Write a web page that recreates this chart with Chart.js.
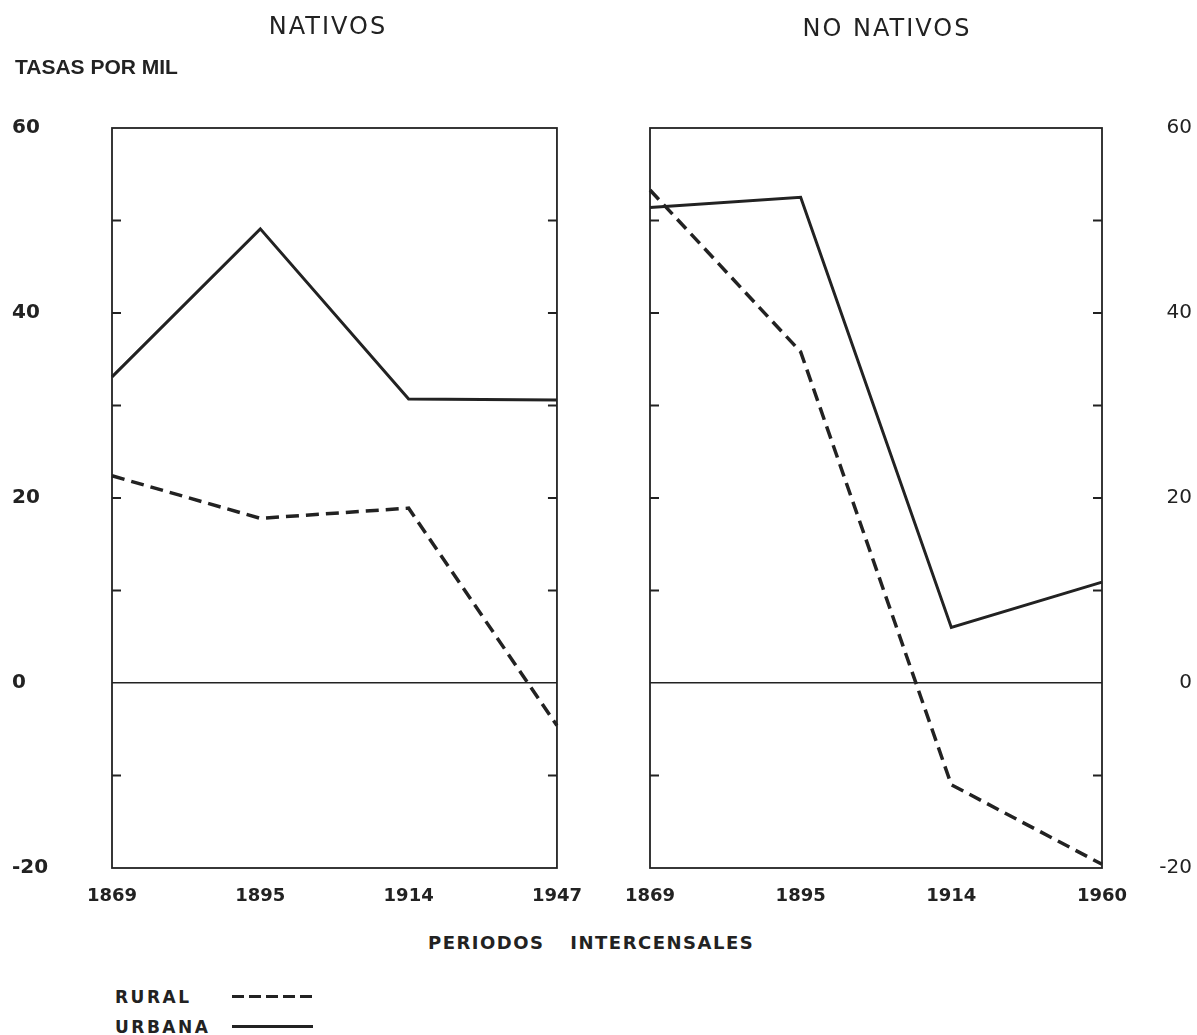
<!DOCTYPE html>
<html>
<head>
<meta charset="utf-8">
<script src="https://cdn.jsdelivr.net/npm/chart.js@4/dist/chart.umd.min.js"></script>
<style>
  body { margin: 0; background: #fff; }
  #pagina { position: relative; width: 1197px; height: 1035px; overflow: hidden; color: #222; }
  canvas { position: absolute; top: 0; }
  .txt { position: absolute; white-space: pre; }
  .titulo { font: 24px "DejaVu Sans"; letter-spacing: 2px; line-height: 30px; text-align: center; }
  .negrita { font-family: "DejaVu Sans"; font-weight: bold; }
  .muestra { position: absolute; height: 3px; }
</style>
</head>
<body>
<div id="pagina">
  <canvas id="nativos" width="600" height="918" style="left:0"></canvas>
  <canvas id="noNativos" width="597" height="918" style="left:600px"></canvas>

  <div class="txt titulo" style="left:228px; width:200px; top:11px">NATIVOS</div>
  <div class="txt titulo" style="left:737px; width:300px; top:13px">NO NATIVOS</div>
  <div class="txt" style="left:15px; top:55px; font:bold 21px 'Liberation Sans'; line-height:24px">TASAS POR MIL</div>
  <div class="txt negrita" style="left:428px; top:931px; font-size:18px; letter-spacing:1.5px; word-spacing:18px; line-height:24px">PERIODOS INTERCENSALES</div>

  <div class="txt negrita" style="left:115px; top:986px; font-size:17px; letter-spacing:2.5px; line-height:22px">RURAL</div>
  <div class="muestra" style="left:232px; top:995px; width:81px; background:repeating-linear-gradient(to right, #222 0 12px, transparent 12px 17px)"></div>
  <div class="txt negrita" style="left:115px; top:1016px; font-size:17px; letter-spacing:2.5px; line-height:22px">URBANA</div>
  <div class="muestra" style="left:232px; top:1025px; width:81px; background:#222"></div>
</div>

<script>
// Datos (tasas por mil)
const añosNativos = ['1869', '1895', '1914', '1947'];
const añosNoNativos = ['1869', '1895', '1914', '1960'];
const nativosRural = [22.4, 17.8, 18.9, -4.6];
const nativosUrbana = [33.1, 49.1, 30.7, 30.6];
const noNativosRural = [53.3, 35.8, -11.0, -19.6];
const noNativosUrbana = [51.4, 52.5, 6.0, 10.9];
const etiquetasY = ['60', '40', '20', '0', '-20'];

const tinta = '#222';

// Marco del panel y marcas cortas hacia adentro en ambos lados
const marco = {
    id: 'marco',
    beforeDatasetsDraw(chart) {
        const { ctx, chartArea: a, scales: { y } } = chart;
        ctx.save();
        ctx.strokeStyle = tinta;
        ctx.lineWidth = 1.8;
        ctx.strokeRect(a.left, a.top, a.right - a.left, a.bottom - a.top);
        y.ticks.forEach(t => {
            if (t.value === y.min || t.value === y.max || t.value === 0) return;
            const py = y.getPixelForValue(t.value);
            ctx.beginPath();
            ctx.moveTo(a.left, py);
            ctx.lineTo(a.left + 9, py);
            ctx.moveTo(a.right, py);
            ctx.lineTo(a.right - 9, py);
            ctx.stroke();
        });
        ctx.restore();
    }
};

const crearPanel = (id, años, rural, urbana, lado, yFuente, yAncho, relleno) => {
    const ctx = document.getElementById(id).getContext('2d');
    new Chart(ctx, {
        type: 'line',
        data: {
            labels: años,
            datasets: [
                {
                    label: 'RURAL',
                    data: rural,
                    borderColor: tinta,
                    borderWidth: 3.5,
                    borderDash: [13, 7],
                    pointRadius: 0,
                    tension: 0
                },
                {
                    label: 'URBANA',
                    data: urbana,
                    borderColor: tinta,
                    borderWidth: 3,
                    pointRadius: 0,
                    tension: 0
                }
            ]
        },
        options: {
            responsive: false,
            animation: false,
            layout: { padding: relleno },
            plugins: {
                legend: { display: false },
                tooltip: { enabled: false }
            },
            scales: {
                x: {
                    offset: false,
                    grid: { display: false, drawTicks: false },
                    border: { display: false },
                    ticks: {
                        color: tinta,
                        padding: 18,
                        maxRotation: 0,
                        autoSkip: false,
                        font: { family: 'DejaVu Sans', size: 18, weight: 'bold' }
                    },
                    afterFit: s => { s.height = 50; }
                },
                y: {
                    position: lado,
                    min: -20,
                    max: 60,
                    grid: {
                        drawTicks: false,
                        lineWidth: 1.5,
                        color: c => c.tick && c.tick.value === 0 ? tinta : 'transparent'
                    },
                    border: { display: false },
                    ticks: {
                        stepSize: 10,
                        crossAlign: 'far',
                        color: tinta,
                        font: yFuente,
                        callback: v => etiquetasY.includes(String(v)) ? String(v) : ''
                    },
                    afterFit: s => { s.width = yAncho; }
                }
            }
        },
        plugins: [marco]
    });
};

crearPanel('nativos', añosNativos, nativosRural, nativosUrbana, 'left',
    { family: 'DejaVu Sans', size: 20, weight: 'bold' }, 100,
    { top: 128, left: 12, right: 43, bottom: 0 });
crearPanel('noNativos', añosNoNativos, noNativosRural, noNativosUrbana, 'right',
    { family: 'DejaVu Sans', size: 20 }, 90,
    { top: 128, left: 50, right: 5, bottom: 0 });
</script>
</body>
</html>
